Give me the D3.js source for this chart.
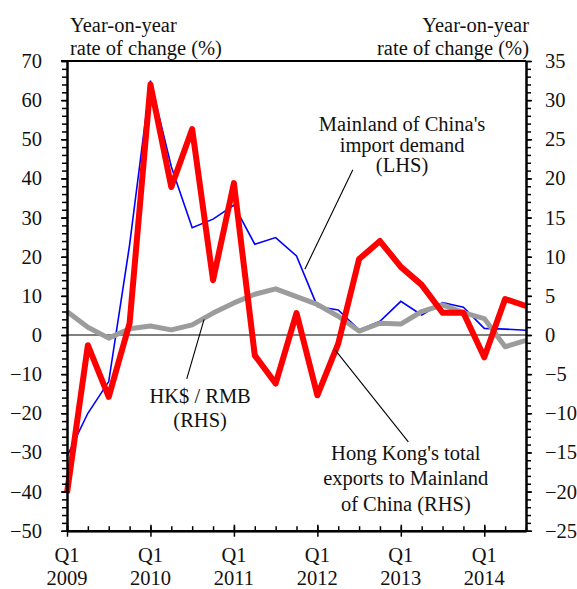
<!DOCTYPE html>
<html>
<head>
<meta charset="utf-8">
<script src="https://cdn.jsdelivr.net/npm/d3@7/dist/d3.min.js"></script>
<style>
  html, body { margin: 0; padding: 0; background: #fff; }
  svg { display: block; font-family: "Liberation Serif", "Times New Roman", Times, serif; }
  text { font-family: "Liberation Serif", "Times New Roman", Times, serif; fill: #111; }
</style>
</head>
<body>
<svg id="chart" width="577" height="589"></svg>
<script>
// ---------------- data ----------------
const quarters = [
  "2009Q1","2009Q2","2009Q3","2009Q4",
  "2010Q1","2010Q2","2010Q3","2010Q4",
  "2011Q1","2011Q2","2011Q3","2011Q4",
  "2012Q1","2012Q2","2012Q3","2012Q4",
  "2013Q1","2013Q2","2013Q3","2013Q4",
  "2014Q1","2014Q2","2014Q3"
];
// Mainland of China's import demand (LHS, %)
const mainlandImports = [-31, -20, -11.9, 23, 65, 43, 27.4, 29.6, 33.2, 23.2, 24.9, 20.2,
                         7.3, 6.4, 1.3, 3.5, 8.6, 5.1, 8.3, 7.1, 1.7, 1.5, 1.2];
// Hong Kong's total exports to Mainland of China (RHS, %)
const hkExports = [-20.2, -1.3, -7.9, 1.5, 32.0, 18.9, 26.3, 7.0, 19.4, -2.6, -6.2, 2.8,
                   -7.7, -1.1, 9.7, 12.0, 8.7, 6.4, 2.85, 2.85, -2.85, 4.6, 3.7];
// HK$ / RMB (RHS, %)
const hkdRmb = [3.0, 1.0, -0.4, 0.8, 1.15, 0.65, 1.3, 2.8, 4.1, 5.2, 5.9, 4.9,
                3.9, 2.4, 0.5, 1.5, 1.4, 3.0, 3.85, 2.85, 2.1, -1.5, -0.7];
const yearLabels = ["2009", "2010", "2011", "2012", "2013", "2014"];
const leftTicks = [-50, -40, -30, -20, -10, 0, 10, 20, 30, 40, 50, 60, 70];
const rightTicks = [-25, -20, -15, -10, -5, 0, 5, 10, 15, 20, 25, 30, 35];
const axisTitle = ["Year-on-year", "rate of change (%)"];

// ---------------- layout ----------------
const W = 577, H = 589;
const m = { left: 67, right: 51, top: 61, bottom: 58.3 };
const svg = d3.select("#chart");
const FS = 20.5;
const FF = '"Liberation Serif", "Times New Roman", Times, serif';

const x = d3.scaleLinear().domain([0, quarters.length - 1]).range([m.left, W - m.right]);
const yL = d3.scaleLinear().domain([-50, 70]).range([H - m.bottom, m.top]);
const yR = d3.scaleLinear().domain([-25, 35]).range([H - m.bottom, m.top]);

const plotB = H - m.bottom, plotT = m.top, plotL = m.left, plotR = W - m.right;

// zero line
svg.append("line")
  .attr("x1", plotL).attr("x2", plotR)
  .attr("y1", yL(0)).attr("y2", yL(0))
  .attr("stroke", "#000").attr("stroke-width", 1.2);

// top border
svg.append("line")
  .attr("x1", plotL - 6).attr("x2", plotR)
  .attr("y1", plotT).attr("y2", plotT)
  .attr("stroke", "#000").attr("stroke-width", 1.8);

// ---------------- lines ----------------
const idx = d3.range(quarters.length);
const lineL = d3.line().x(i => x(i)).y(i => yL(mainlandImports[i]));
const lineG = d3.line().x(i => x(i)).y(i => yR(hkdRmb[i]));
const lineR = d3.line().x(i => x(i)).y(i => yR(hkExports[i]));

svg.append("path").attr("d", lineL(idx))
  .attr("fill", "none").attr("stroke", "#0000ff").attr("stroke-width", 1.6)
  .attr("stroke-linejoin", "miter");
svg.append("path").attr("d", lineG(idx))
  .attr("fill", "none").attr("stroke", "#9c9c9c").attr("stroke-width", 5)
  .attr("stroke-linejoin", "round");
svg.append("path").attr("d", lineR(idx))
  .attr("fill", "none").attr("stroke", "#ff0000").attr("stroke-width", 6)
  .attr("stroke-linejoin", "round");

// ---------------- axes ----------------
function styleAxis(g) {
  g.selectAll("path.domain").attr("stroke", "#000").attr("stroke-width", 2);
  g.selectAll(".tick line").attr("stroke", "#000").attr("stroke-width", 1.5);
  g.selectAll("text").attr("font-size", FS).style("font-family", FF).attr("fill", "#111");
}

// left minor
svg.append("g").attr("transform", `translate(${plotL},0)`)
  .call(d3.axisLeft(yL).tickValues(d3.range(-50, 71, 2)).tickSize(5).tickSizeOuter(0).tickFormat(""))
  .call(styleAxis);
// left major
svg.append("g").attr("transform", `translate(${plotL},0)`)
  .call(d3.axisLeft(yL).tickValues(leftTicks).tickSize(6).tickSizeOuter(0).tickPadding(19).tickFormat(d3.format("d")))
  .call(styleAxis);
// right minor
svg.append("g").attr("transform", `translate(${plotR},0)`)
  .call(d3.axisRight(yR).tickValues(d3.range(-25, 36, 1)).tickSize(5).tickSizeOuter(0).tickFormat(""))
  .call(styleAxis);
// right major
svg.append("g").attr("transform", `translate(${plotR},0)`)
  .call(d3.axisRight(yR).tickValues(rightTicks).tickSize(6).tickSizeOuter(0).tickPadding(13).tickFormat(d3.format("d")))
  .call(styleAxis);
// bottom minor (inward)
svg.append("g").attr("transform", `translate(0,${plotB})`)
  .call(d3.axisBottom(x).tickValues(idx).tickSize(-4.5).tickSizeOuter(0).tickFormat(""))
  .call(styleAxis);
// bottom major (crossing)
const yearIdx = yearLabels.map((d, k) => k * 4);
svg.append("g").attr("transform", `translate(0,${plotB})`)
  .call(d3.axisBottom(x).tickValues(yearIdx).tickSize(6).tickSizeOuter(0).tickFormat(""))
  .call(styleAxis);
svg.append("g").attr("transform", `translate(0,${plotB})`)
  .call(d3.axisBottom(x).tickValues(yearIdx).tickSize(-6).tickSizeOuter(0).tickFormat(""))
  .call(styleAxis);

// bottom labels
const xl = svg.append("g").attr("font-size", FS).attr("text-anchor", "middle");
yearIdx.forEach((i, k) => {
  xl.append("text").attr("x", x(i)).attr("y", 562).text("Q1");
  xl.append("text").attr("x", x(i)).attr("y", 584.5).text(yearLabels[k]);
});

// axis titles
const t = svg.append("g").attr("font-size", FS);
t.append("text").attr("x", 70).attr("y", 31.5).text(axisTitle[0]);
t.append("text").attr("x", 70).attr("y", 55).text(axisTitle[1]);
t.append("text").attr("x", 529).attr("y", 31.5).attr("text-anchor", "end").text(axisTitle[0]);
t.append("text").attr("x", 529).attr("y", 55).attr("text-anchor", "end").text(axisTitle[1]);

// ---------------- annotations ----------------
function leader(i1, v1, i2, v2) {
  svg.append("line")
    .attr("x1", x(i1)).attr("y1", yL(v1))
    .attr("x2", x(i2)).attr("y2", yL(v2))
    .attr("stroke", "#000").attr("stroke-width", 1.1);
}
function label(i, vs, lines) {
  const g = svg.append("g").attr("font-size", FS).attr("text-anchor", "middle");
  lines.forEach((s, k) => g.append("text").attr("x", x(i)).attr("y", yL(vs[k])).text(s));
}
leader(13.7, 42.2, 11.4, 16.8);
label(16.06, [52.2, 46.8, 41.6], ["Mainland of China's", "import demand", "(LHS)"]);

leader(5.74, -11.2, 6.57, 4.0);
label(6.38, [-17.3, -23.6], ["HK$ / RMB", "(RHS)"]);

leader(12.85, -3.8, 16.36, -27.3);
label(16.24, [-31.9, -38.3, -44.9], ["Hong Kong's total", "exports to Mainland", "of China (RHS)"]);
</script>
</body>
</html>
